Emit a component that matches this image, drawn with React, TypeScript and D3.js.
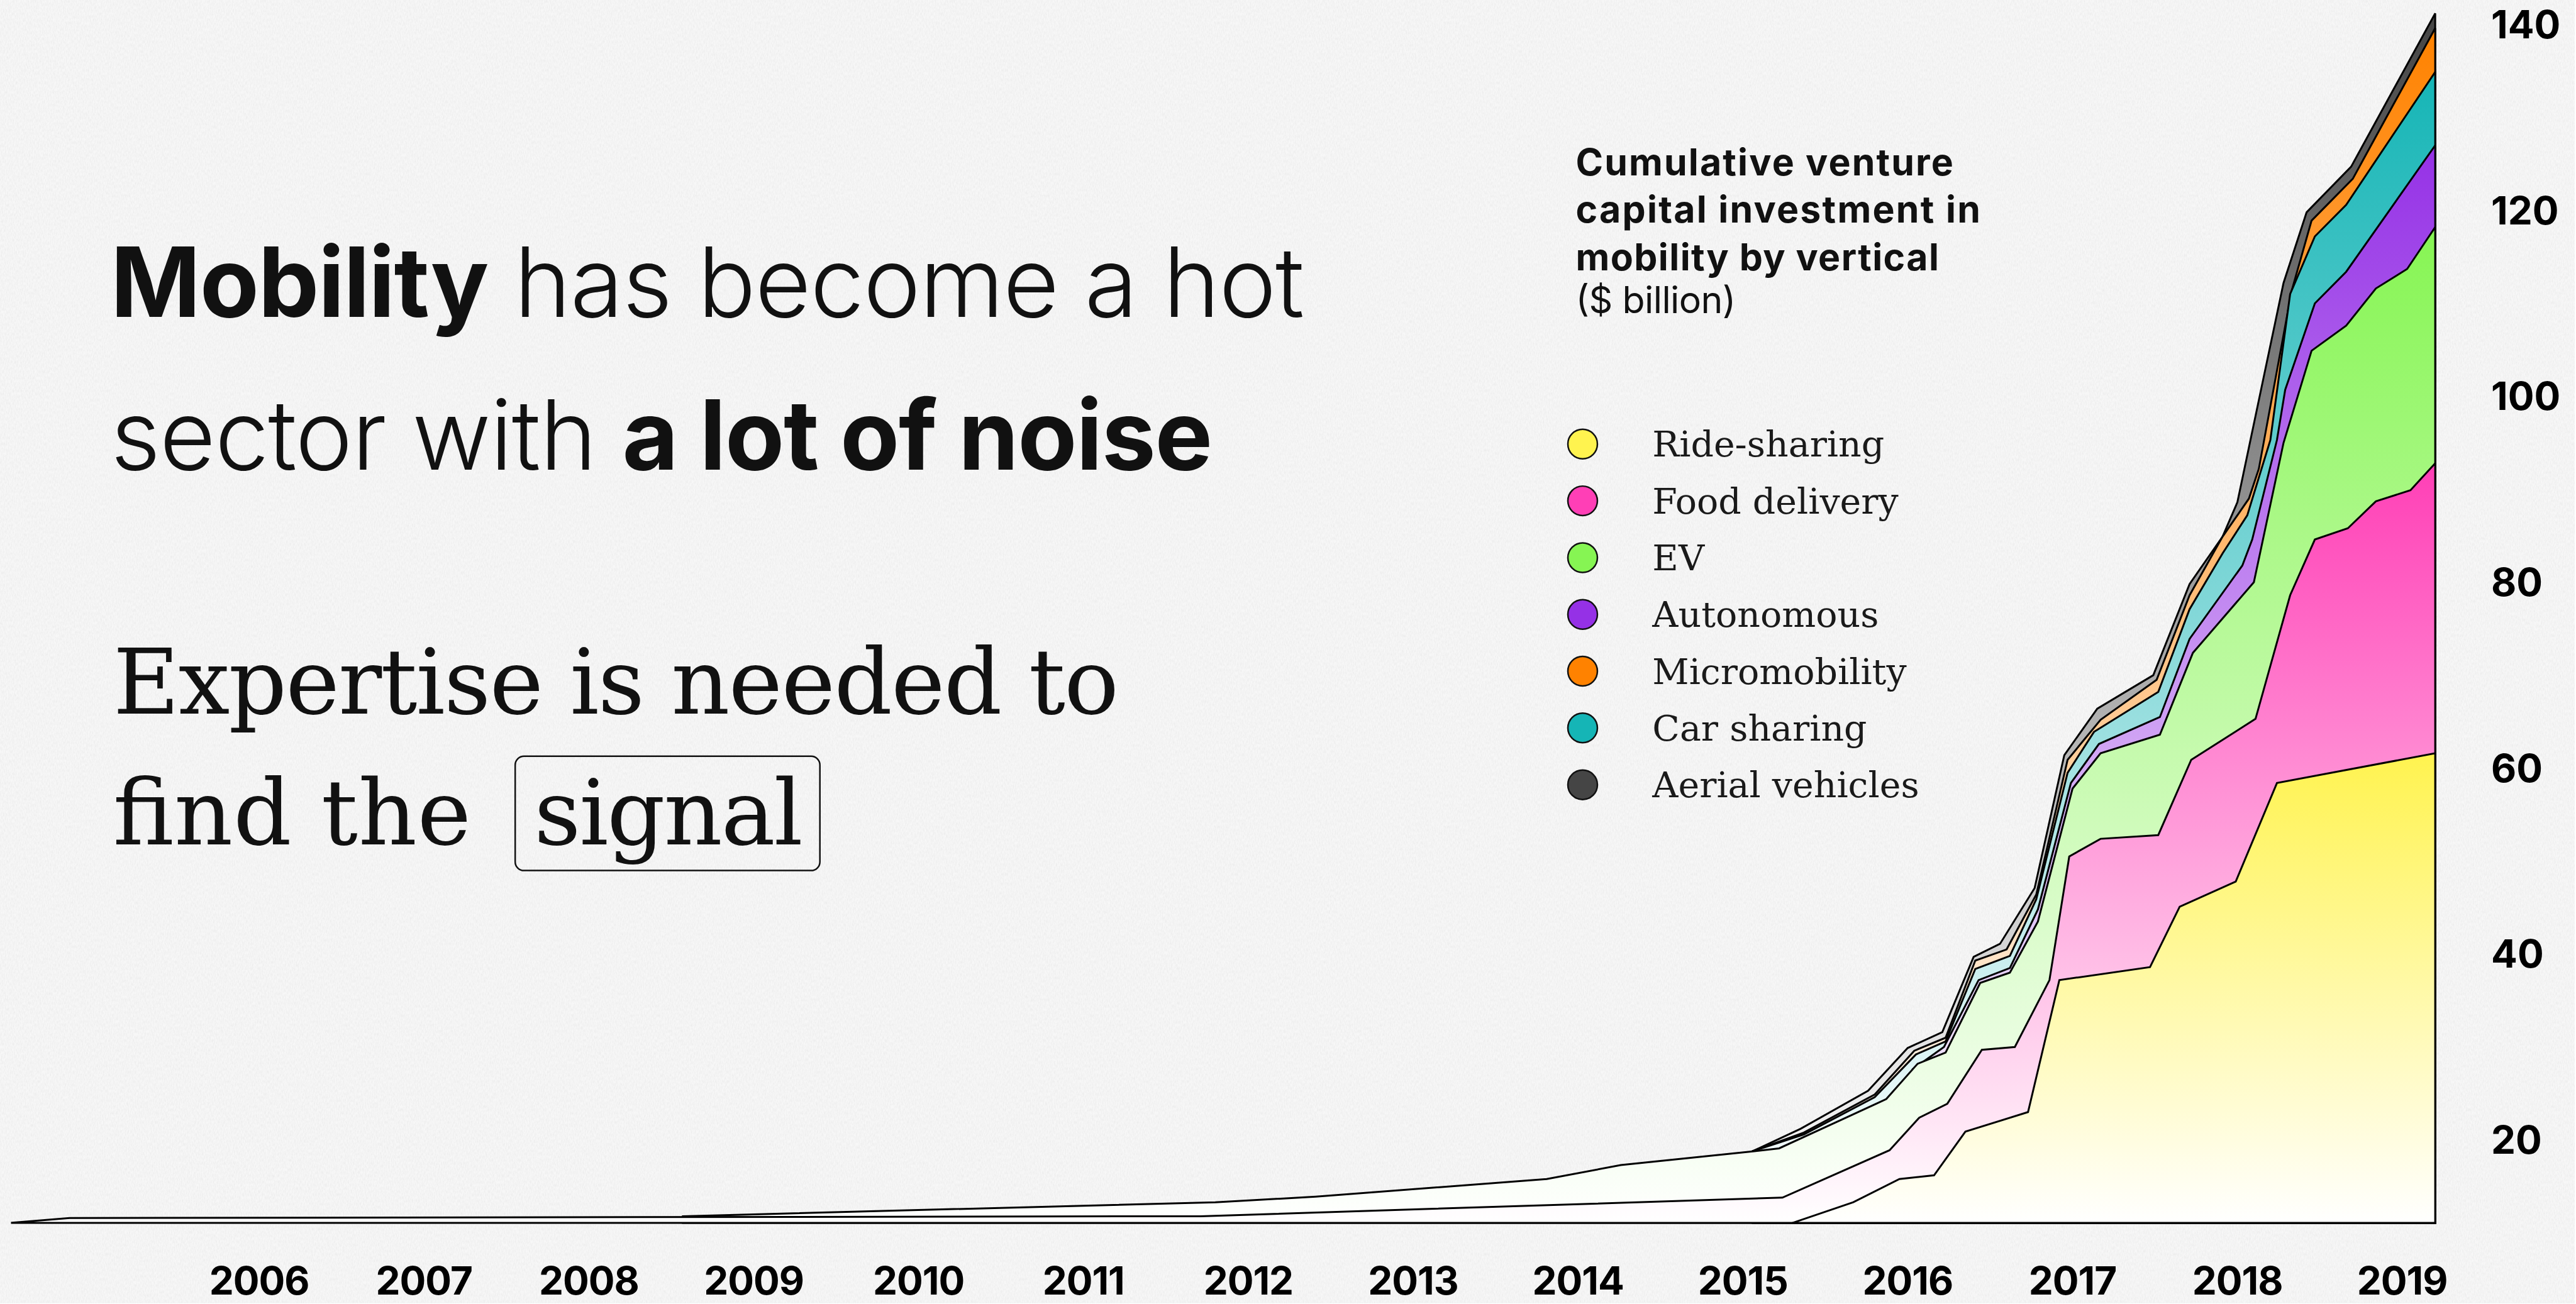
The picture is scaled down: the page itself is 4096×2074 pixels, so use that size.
import * as d3 from 'd3';

// reference canvas, everything is drawn in these units and scaled down at the end
const W = 4098;
const H = 2075;
const SCALE = 0.999;

const verticals = ['Ride-sharing', 'Food delivery', 'EV', 'Autonomous', 'Micromobility', 'Car sharing', 'Aerial vehicles'];
const swatches = ['#fff34f', '#ff3fb6', '#86f553', '#9531e6', '#ff8200', '#15b5b6', '#454545'];

// top edge of each band as plotted (running total, $ billion), [year, value]
const rideSharing = [
  [2015.8, 10.7], [2016.17, 13.1], [2016.45, 15.6], [2016.66, 16.0], [2016.85, 20.7], [2017.23, 22.8],
  [2017.42, 37.0], [2017.97, 38.4], [2018.15, 44.9], [2018.49, 47.6], [2018.74, 58.2], [2019.7, 61.4],
];
const foodDelivery = [
  [2005.0, 10.9], [2005.35, 11.4], [2012.21, 11.6], [2015.74, 13.6], [2016.39, 18.7], [2016.57, 22.2],
  [2016.74, 23.7], [2016.95, 29.5], [2017.15, 29.8], [2017.36, 37.0], [2017.48, 50.3], [2017.67, 52.2],
  [2018.02, 52.6], [2018.22, 60.7], [2018.61, 65.1], [2018.82, 78.4], [2018.97, 84.4], [2019.17, 85.6],
  [2019.34, 88.5], [2019.55, 89.7], [2019.7, 92.6],
];
const ev = [
  [2009.07, 11.6], [2012.3, 13.1], [2012.91, 13.7], [2014.31, 15.6], [2014.76, 17.1], [2015.57, 18.6],
  [2015.72, 18.9], [2016.31, 23.7], [2016.37, 24.2], [2016.56, 28.0], [2016.73, 29.2], [2016.94, 36.7],
  [2017.12, 37.8], [2017.29, 43.3], [2017.5, 57.6], [2017.67, 61.4], [2018.03, 63.4], [2018.23, 72.2],
  [2018.6, 79.8], [2018.78, 94.8], [2018.95, 104.7], [2019.16, 107.4], [2019.34, 111.4], [2019.53, 113.5],
  [2019.7, 118.0],
];
const autonomous = [
  [2016.53, 27.4], [2016.72, 29.8], [2016.93, 37.0], [2017.12, 38.3], [2017.29, 44.6], [2017.49, 58.2],
  [2017.66, 62.4], [2018.03, 65.3], [2018.21, 73.7], [2018.53, 81.6], [2018.59, 84.4], [2018.74, 95.1],
  [2018.79, 100.5], [2018.97, 109.8], [2019.16, 113.2], [2019.7, 126.8],
];
const carSharing = [
  [2015.56, 18.6], [2015.87, 20.4], [2016.3, 24.4], [2016.55, 29.0], [2016.73, 30.4], [2016.91, 38.2],
  [2017.12, 39.6], [2017.28, 45.7], [2017.47, 59.3], [2017.63, 63.7], [2018.02, 68.0], [2018.21, 76.9],
  [2018.41, 82.9], [2018.56, 87.0], [2018.7, 95.1], [2018.82, 110.8], [2018.97, 117.0], [2019.16, 120.4],
  [2019.7, 134.7],
];
const micromobility = [
  [2015.56, 18.6], [2015.87, 20.6], [2016.3, 24.7], [2016.54, 29.4], [2016.73, 30.8], [2016.91, 39.1],
  [2017.1, 40.3], [2017.28, 46.2], [2017.47, 60.7], [2017.67, 65.0], [2018.01, 69.3], [2018.21, 78.4],
  [2018.41, 84.7], [2018.57, 88.8], [2018.63, 92.0], [2018.83, 111.2], [2018.95, 118.7], [2019.2, 123.2],
  [2019.7, 139.4],
];
const aerialVehicles = [
  [2015.56, 18.6], [2015.85, 21.0], [2016.26, 25.1], [2016.5, 29.7], [2016.71, 31.4], [2016.9, 39.5],
  [2017.06, 40.9], [2017.27, 46.9], [2017.45, 61.2], [2017.65, 66.2], [2017.99, 69.8], [2018.21, 79.6],
  [2018.41, 84.7], [2018.5, 88.4], [2018.66, 101.9], [2018.78, 112.0], [2018.92, 119.6], [2019.19, 124.5],
  [2019.7, 141.0],
];

const bandTops = [rideSharing, foodDelivery, ev, autonomous, micromobility, carSharing, aerialVehicles];
// stacking order bottom -> top (car sharing sits under micromobility)
const stackOrder = [0, 1, 2, 3, 5, 4, 6];

const yearTicks = [2006, 2007, 2008, 2009, 2010, 2011, 2012, 2013, 2014, 2015, 2016, 2017, 2018, 2019];
const valueTicks = [20, 40, 60, 80, 100, 120, 140];

export default function App() {
  const x = d3.scaleLinear().domain([2005, 2019.7]).range([19, 3876]);
  const y = d3.scaleLinear().domain([0, 140]).range([2108, 36]);
  const floor = 1947;

  const area = d3.area<number[]>()
    .x(d => x(d[0]))
    .y0(floor)
    .y1(d => Math.min(y(d[1]), floor));

  // paint from the top band down so each lower band covers the one above it
  const drawOrder = [...stackOrder].reverse();

  return (
    <>
      <style>{'body{margin:0}'}</style>
      <svg width={4096} height={2074} style={{ display: 'block' }}>
        <defs>
          {verticals.map((v, i) => (
            <linearGradient key={v} id={`band-${i}`} x1="0" y1="0" x2="0" y2="1">
              <stop offset="0%" stopColor={swatches[i]} />
              <stop offset="100%" stopColor="#ffffff" />
            </linearGradient>
          ))}
          <filter id="grain" x="0" y="0" width="100%" height="100%">
            <feTurbulence type="fractalNoise" baseFrequency="0.7 0.2" numOctaves={2} seed={4} />
            <feColorMatrix type="matrix" values="0 0 0 0 0  0 0 0 0 0  0 0 0 0 0  0.08 0 0 0 -0.026" />
          </filter>
        </defs>
        <g transform={`scale(${SCALE})`}>
          <rect width={W} height={H} fill="#f7f7f7" />
          <rect width={W} height={H} filter="url(#grain)" />

          {/* headline */}
          <text x={176} y={505} fontFamily="Inter" fontSize={154} fill="#111" textLength={1900} lengthAdjust="spacing">
            <tspan fontWeight={700}>Mobility</tspan>
            <tspan fontWeight={300}>{' has become a hot'}</tspan>
          </text>
          <text x={176} y={748} fontFamily="Inter" fontSize={154} fill="#111" textLength={1754} lengthAdjust="spacing">
            <tspan fontWeight={300}>{'sector with '}</tspan>
            <tspan fontWeight={700}>a lot of noise</tspan>
          </text>

          <g fontFamily="DejaVu Serif" fontSize={145} fill="#111">
            <text x={180} y={1136} textLength={1601} lengthAdjust="spacing">Expertise is needed to</text>
            <text x={180} y={1344} textLength={570} lengthAdjust="spacing">find the</text>
            <text x={850} y={1344} textLength={428} lengthAdjust="spacing">signal</text>
          </g>
          <rect x={820} y={1204} width={485} height={182} rx={14} fill="none" stroke="#111" strokeWidth={2.5} />

          {/* bands */}
          <g stroke="#000" strokeWidth={3} strokeLinejoin="miter">
            {drawOrder.map(i => (
              <path key={verticals[i]} d={area(bandTops[i]) ?? ''} fill={`url(#band-${i})`} />
            ))}
          </g>

          {/* chart title */}
          <g fontFamily="Inter" fontSize={59} fill="#111">
            <text x={2508} y={279} fontWeight={700} textLength={601} lengthAdjust="spacing">Cumulative venture</text>
            <text x={2508} y={354} fontWeight={700} textLength={644} lengthAdjust="spacing">capital investment in</text>
            <text x={2508} y={430} fontWeight={700} textLength={578} lengthAdjust="spacing">mobility by vertical</text>
            <text x={2508} y={498} fontWeight={400} textLength={255} lengthAdjust="spacing">($ billion)</text>
          </g>

          {/* legend */}
          {verticals.map((v, i) => (
            <g key={v} transform={`translate(2519,${707 + i * 90.4})`}>
              <circle r={23.5} fill={swatches[i]} stroke="#111" strokeWidth={2.5} />
              <text x={111} y={20} fontFamily="DejaVu Serif" fontSize={57} fill="#1a1a1a">{v}</text>
            </g>
          ))}

          {/* axes */}
          <g fontFamily="Inter" fontWeight={700} fontSize={62} fill="#000">
            {valueTicks.map(t => (
              <text key={t} x={3965} y={y(t) + 25}>{t}</text>
            ))}
            {yearTicks.map(yr => (
              <text key={yr} x={x(yr + 0.5)} y={2061} textAnchor="middle" letterSpacing={-1}>{yr}</text>
            ))}
          </g>
        </g>
      </svg>
    </>
  );
}
